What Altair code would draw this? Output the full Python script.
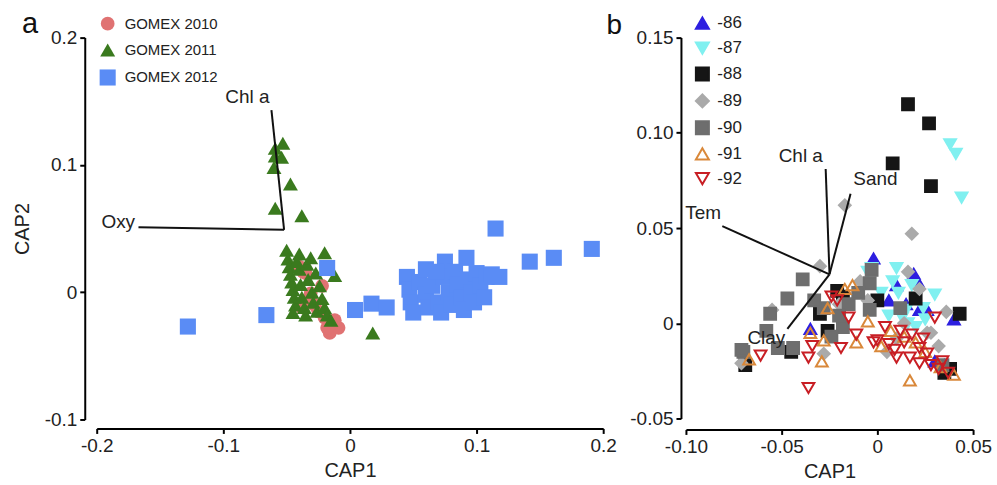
import altair as alt
import pandas as pd

# ---------------- Panel a data ----------------
groups_a = ["GOMEX 2010", "GOMEX 2011", "GOMEX 2012"]

g2010_x = [-0.037, -0.031, -0.012, -0.016, -0.009, -0.040, -0.035, -0.032, -0.028, -0.025,
           -0.020, -0.015, -0.018, -0.022, -0.038]
g2010_y = [0.016, -0.001, -0.022, -0.032, -0.028, 0.020, 0.015, -0.005, -0.010, -0.015,
           -0.020, -0.025, -0.028, 0.005, -0.012]

g2011_x = [-0.059, -0.053, -0.059, -0.054, -0.060, -0.047, -0.059, -0.038,
           -0.050, -0.049, -0.048, -0.047, -0.046, -0.045, -0.044, -0.043, -0.040, -0.040,
           -0.039, -0.038, -0.036, -0.034, -0.033, -0.031, -0.030, -0.029, -0.027, -0.026,
           -0.024, -0.022, -0.020, -0.020, -0.018, -0.015, -0.012, -0.042, -0.045, -0.035, 0.018]
g2011_y = [0.113, 0.117, 0.107, 0.106, 0.098, 0.085, 0.066, 0.060,
           0.033, 0.026, 0.020, 0.014, 0.008, 0.002, -0.004, -0.010, 0.030, 0.018,
           0.006, -0.004, -0.012, 0.022, 0.010, 0.027, 0.000, -0.008, 0.015, -0.015,
           0.005, -0.005, 0.031, -0.012, -0.018, -0.022, 0.013, 0.024, -0.016, -0.018, -0.032]

g2012_x = [-0.128, -0.066, -0.018, 0.004, 0.017, 0.029, 0.115, 0.142, 0.161, 0.191, 0.092, 0.075,
           0.045, 0.047, 0.048, 0.050, 0.055, 0.060, 0.062, 0.065, 0.070, 0.072, 0.074, 0.078,
           0.080, 0.083, 0.085, 0.088, 0.090, 0.093, 0.096, 0.098, 0.100, 0.103, 0.106, 0.108,
           0.112, 0.118, 0.060, 0.068]
g2012_y = [-0.027, -0.018, 0.019, -0.014, -0.009, -0.012, 0.050, 0.024, 0.027, 0.034, 0.027, 0.024,
           0.012, 0.002, -0.008, -0.016, 0.008, -0.002, -0.012, 0.005, -0.008, -0.016, 0.012, 0.000,
           -0.010, 0.016, 0.006, -0.004, -0.014, 0.010, 0.000, -0.008, 0.015, 0.005, -0.004, 0.012,
           0.014, 0.012, 0.018, 0.016]

vec_a_name = ["Chl a", "Oxy"]
vec_a_x0 = [-0.052, -0.052]
vec_a_y0 = [0.049, 0.049]
vec_a_x1 = [-0.062, -0.167]
vec_a_y1 = [0.143, 0.051]
vec_a_lx = [-0.081, -0.183]
vec_a_ly = [0.153, 0.055]

# ---------------- Panel b data ----------------
depths = ["-86", "-87", "-88", "-89", "-90", "-91", "-92"]

d86_x = [-0.002, 0.019, 0.021, 0.006, 0.026, 0.040, -0.035, 0.022, 0.010, 0.030, 0.035, 0.015]
d86_y = [0.034, 0.026, 0.022, 0.012, 0.007, 0.002, -0.003, 0.007, 0.020, -0.020, -0.022, 0.010]

d87_x = [0.038, 0.041, 0.044, -0.003, 0.010, 0.011, 0.015, 0.024, 0.013, 0.002, -0.005, 0.018,
         0.030, 0.020, 0.006, 0.016, 0.025, 0.008]
d87_y = [0.094, 0.089, 0.066, 0.029, 0.029, 0.016, 0.007, 0.008, 0.003, 0.016, 0.027, 0.020,
         0.015, -0.002, 0.004, 0.000, 0.002, 0.022]

d88_x = [0.016, 0.027, 0.008, 0.028, 0.000, 0.020, 0.043, -0.021, -0.026, -0.045, -0.069, 0.035,
         -0.030, 0.038, -0.018]
d88_y = [0.115, 0.105, 0.084, 0.072, 0.012, 0.013, 0.005, 0.017, -0.004, -0.015, -0.022, -0.026,
         0.005, -0.024, 0.014]

d89_x = [-0.017, 0.018, -0.030, 0.016, 0.036, 0.026, -0.009, 0.028, 0.005, -0.028, -0.055, -0.071,
         0.022, -0.020, 0.010, 0.032, -0.005, 0.014]
d89_y = [0.062, 0.047, 0.030, 0.027, 0.006, -0.005, 0.022, -0.005, -0.015, -0.016, 0.007, -0.021,
         0.018, 0.010, -0.008, -0.012, 0.012, 0.000]

d90_x = [-0.039, -0.047, -0.056, -0.058, -0.070, -0.044, -0.003, -0.004, 0.012, -0.004, -0.018,
         -0.028, -0.024, -0.015, -0.010, -0.071, -0.052, -0.033, -0.020, 0.034]
d90_y = [0.023, 0.013, 0.005, -0.004, -0.015, -0.013, 0.028, 0.021, 0.008, 0.007, -0.002,
         0.008, -0.007, 0.010, 0.016, -0.014, -0.013, 0.012, 0.004, -0.022]

d91_x = [-0.017, -0.026, -0.005, -0.011, -0.029, -0.035, 0.017, 0.040, -0.067, 0.007, 0.014,
         -0.028, -0.013, 0.025, 0.033, 0.020, 0.002]
d91_y = [0.018, 0.008, 0.001, -0.010, -0.020, -0.005, -0.030, -0.027, -0.019, -0.004, -0.007,
         -0.009, 0.020, -0.015, -0.023, -0.010, -0.012]

d92_x = [-0.036, -0.021, -0.015, 0.030, -0.061, -0.036, -0.034, -0.019, -0.011, -0.002, 0.004,
         0.009, 0.014, 0.017, 0.022, 0.022, 0.028, 0.032, 0.037, 0.010, 0.000, -0.024, 0.018, 0.026,
         0.012, 0.024, 0.034, 0.006]
d92_y = [-0.034, 0.012, 0.003, 0.003, -0.017, -0.018, -0.012, -0.013, -0.006, -0.010, -0.002,
         -0.014, -0.010, -0.018, -0.013, -0.021, -0.022, -0.024, -0.026, -0.018, -0.009, 0.014,
         -0.006, -0.016, -0.004, -0.008, -0.020, -0.011]

vec_b_name = ["Chl a", "Sand", "Tem", "Clay"]
vec_b_x0 = [-0.025, -0.025, -0.025, -0.025]
vec_b_y0 = [0.0257, 0.0257, 0.0257, 0.0257]
vec_b_x1 = [-0.027, -0.014, -0.081, -0.047]
vec_b_y1 = [0.081, 0.068, 0.051, -0.003]
vec_b_lx = [-0.040, -0.001, -0.091, -0.058]
vec_b_ly = [0.088, 0.076, 0.058, -0.008]

# ---------------- Build tables ----------------
rows_a = []
for name, xs, ys in zip(groups_a, [g2010_x, g2011_x, g2012_x], [g2010_y, g2011_y, g2012_y]):
    rows_a += [{"group": name, "cap1": x, "cap2": y} for x, y in zip(xs, ys)]
df_a = pd.DataFrame(rows_a)

rows_b = []
for name, xs, ys in zip(depths, [d86_x, d87_x, d88_x, d89_x, d90_x, d91_x, d92_x],
                        [d86_y, d87_y, d88_y, d89_y, d90_y, d91_y, d92_y]):
    rows_b += [{"depth": name, "cap1": x, "cap2": y} for x, y in zip(xs, ys)]
df_b = pd.DataFrame(rows_b)

vec_a = pd.DataFrame({"name": vec_a_name, "x0": vec_a_x0, "y0": vec_a_y0, "x1": vec_a_x1,
                      "y1": vec_a_y1, "lx": vec_a_lx, "ly": vec_a_ly})
vec_b = pd.DataFrame({"name": vec_b_name, "x0": vec_b_x0, "y0": vec_b_y0, "x1": vec_b_x1,
                      "y1": vec_b_y1, "lx": vec_b_lx, "ly": vec_b_ly})

FONT = "Liberation Sans"
AX = dict(domainColor="black", domainWidth=2, tickColor="black", tickWidth=2, tickSize=5,
          labelFont=FONT, labelFontSize=19, labelColor="#222", titleFont=FONT, titleFontSize=20,
          titleFontWeight="normal", titleColor="#222", grid=False, labelPadding=3,
          labelFlush=False)


def lab(fmt):
    return ("datum.value == 0 ? '0' : (datum.value < 0 ? '-' + format(-datum.value, '%s') "
            ": format(datum.value, '%s'))" % (fmt, fmt))


# ---------------- Panel a ----------------
xa = alt.Scale(domain=[-0.2, 0.2], nice=False, zero=False)
ya = alt.Scale(domain=[-0.1, 0.2], nice=False, zero=False)
xa_axis = alt.Axis(values=[-0.2, -0.1, 0, 0.1, 0.2], labelExpr=lab(".1f"), offset=9, titlePadding=5, **AX)
ya_axis = alt.Axis(values=[-0.1, 0, 0.1, 0.2], labelExpr=lab(".1f"), offset=12, titlePadding=12, **AX)

leg_a = alt.Legend(title=None, orient="none", legendX=2, legendY=-22, labelFont=FONT,
                   labelFontSize=15, labelColor="#222", symbolSize=200, rowPadding=10,
                   labelOffset=8)

pts_a = alt.Chart(df_a).mark_point(filled=True, opacity=1).encode(
    x=alt.X("cap1:Q", scale=xa, axis=xa_axis, title="CAP1"),
    y=alt.Y("cap2:Q", scale=ya, axis=ya_axis, title="CAP2"),
    shape=alt.Shape("group:N", scale=alt.Scale(domain=groups_a, range=["circle", "triangle-up", "square"]), legend=leg_a),
    color=alt.Color("group:N", scale=alt.Scale(domain=groups_a, range=["#E07272", "#3A7A1E", "#5A8CF5"]), legend=leg_a),
    size=alt.Size("group:N", scale=alt.Scale(domain=groups_a, range=[190, 260, 200]), legend=None),
)
rule_a = alt.Chart(vec_a).mark_rule(color="#111", strokeWidth=2).encode(
    x=alt.X("x0:Q", scale=xa), y=alt.Y("y0:Q", scale=ya), x2="x1:Q", y2="y1:Q")
text_a = alt.Chart(vec_a).mark_text(font=FONT, fontSize=19, color="#222").encode(
    x=alt.X("lx:Q", scale=xa), y=alt.Y("ly:Q", scale=ya), text="name:N")
letter_a = alt.Chart(pd.DataFrame({"t": ["a"]})).mark_text(
    font=FONT, fontSize=29, color="#111", baseline="alphabetic", align="center").encode(
    x=alt.value(-67), y=alt.value(-5), text="t:N")

panel_a = alt.layer(pts_a, rule_a, text_a, letter_a).properties(width=508, height=383)

# ---------------- Panel b ----------------
xb = alt.Scale(domain=[-0.10, 0.05], nice=False, zero=False)
yb = alt.Scale(domain=[-0.05, 0.15], nice=False, zero=False)
xb_axis = alt.Axis(values=[-0.10, -0.05, 0, 0.05], labelExpr=lab(".2f"), offset=11, titlePadding=5, **AX)
yb_axis = alt.Axis(values=[-0.05, 0, 0.05, 0.10, 0.15], labelExpr=lab(".2f"), offset=5, **AX)

leg_b = alt.Legend(title=None, orient="none", legendX=8, legendY=-23, labelFont=FONT,
                   labelFontSize=17, labelColor="#222", symbolSize=170, symbolStrokeWidth=2,
                   rowPadding=4, labelOffset=6.5)

shapes_b = ["triangle-up", "triangle-down", "square", "diamond", "square", "triangle-up", "triangle-down"]
fills_b = ["#2D1FE0", "#80F0F0", "#151515", "#AAAAAA", "#6E6E6E", "transparent", "transparent"]
strokes_b = ["#2D1FE0", "#80F0F0", "#151515", "#AAAAAA", "#6E6E6E", "#D9883A", "#C81E24"]

pts_b = alt.Chart(df_b).mark_point(filled=False, opacity=1, strokeWidth=2, size=140).encode(
    x=alt.X("cap1:Q", scale=xb, axis=xb_axis, title="CAP1"),
    y=alt.Y("cap2:Q", scale=yb, axis=yb_axis, title=None),
    shape=alt.Shape("depth:N", scale=alt.Scale(domain=depths, range=shapes_b), legend=leg_b),
    fill=alt.Fill("depth:N", scale=alt.Scale(domain=depths, range=fills_b), legend=leg_b),
    stroke=alt.Stroke("depth:N", scale=alt.Scale(domain=depths, range=strokes_b), legend=leg_b),
)
rule_b = alt.Chart(vec_b).mark_rule(color="#111", strokeWidth=2).encode(
    x=alt.X("x0:Q", scale=xb), y=alt.Y("y0:Q", scale=yb), x2="x1:Q", y2="y1:Q")
text_b = alt.Chart(vec_b).mark_text(font=FONT, fontSize=19, color="#222").encode(
    x=alt.X("lx:Q", scale=xb), y=alt.Y("ly:Q", scale=yb), text="name:N")
letter_b = alt.Chart(pd.DataFrame({"t": ["b"]})).mark_text(
    font=FONT, fontSize=28, color="#111", baseline="alphabetic", align="center").encode(
    x=alt.value(-72), y=alt.value(-4), text="t:N")

panel_b = alt.layer(pts_b, rule_b, text_b, letter_b).properties(width=288, height=382)

chart = alt.hconcat(panel_a, panel_b, spacing=83, bounds="flush").resolve_scale(
    color="independent", shape="independent", size="independent", fill="independent",
    stroke="independent", x="independent", y="independent"
).resolve_legend(color="independent", shape="independent", fill="independent", stroke="independent"
).properties(padding={"left": 12, "top": 9, "right": 5, "bottom": 3}, background="white"
).configure_view(stroke=None)

chart.save("out.html", embed_options={"renderer": "svg", "actions": False})
